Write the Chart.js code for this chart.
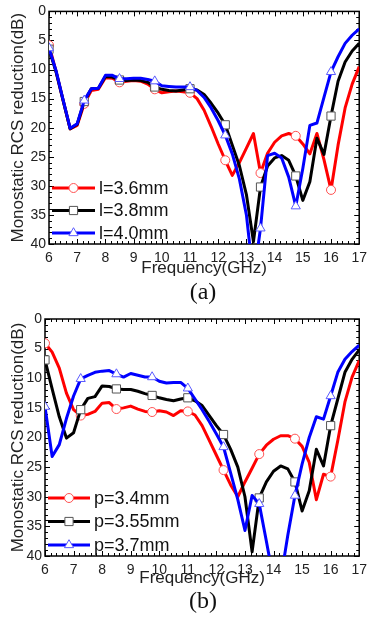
<!DOCTYPE html>
<html lang="en">
<head>
<meta charset="UTF-8">
<title>RCS reduction</title>
<script src="https://cdn.jsdelivr.net/npm/chart.js"></script>
<style>
  body { margin: 0; background: #fff; width: 373px; height: 623px; position: relative; overflow: hidden; }
  canvas { position: absolute; left: 0; }
  .cap { position: absolute; width: 60px; text-align: center; font-family: "Liberation Serif", "Times New Roman", serif; font-size: 24px; color: #111; }
</style>
</head>
<body>
<canvas id="chartA" width="373" height="282" style="top:0px"></canvas>
<div class="cap" style="left:173px; top:278px;">(a)</div>
<canvas id="chartB" width="373" height="292" style="top:300px"></canvas>
<div class="cap" style="left:173px; top:587px;">(b)</div>

<script>
// frequency points (GHz)
const freq = [6, 6.25, 6.5, 6.75, 7, 7.25, 7.5, 7.75, 8, 8.25, 8.5, 8.75, 9, 9.25, 9.5, 9.75,
  10, 10.25, 10.5, 10.75, 11, 11.25, 11.5, 11.75, 12, 12.25, 12.5, 12.75, 13, 13.25, 13.5, 13.75,
  14, 14.25, 14.5, 14.75, 15, 15.25, 15.5, 15.75, 16, 16.25, 16.5, 16.75, 17];

// (a) varying l
const labelsA = ['l=3.6mm', 'l=3.8mm', 'l=4.0mm'];
const l36 = [5.8, 10.3, 15.3, 20.2, 19.6, 15.9, 13.6, 13.4, 11.4, 11.5, 12.2, 12.0, 11.9, 12.0, 12.5, 13.4,
  14.0, 13.8, 13.7, 13.8, 14.0, 15.0, 17.0, 19.8, 22.8, 25.6, 28.2, 26.0, 23.5, 21.0, 27.8, 24.4,
  22.5, 21.4, 21.0, 21.4, 22.8, 24.5, 21.0, 25.5, 30.7, 23.0, 16.6, 12.5, 9.5];
const l38 = [6.5, 10.4, 15.3, 20.2, 19.4, 15.5, 13.3, 13.2, 11.2, 11.3, 11.8, 11.9, 11.8, 11.9, 12.2, 13.0,
  13.4, 13.6, 13.7, 13.5, 13.3, 13.5, 14.3, 15.8, 17.5, 19.5, 23.0, 26.5, 31.5, 39.6, 30.2, 26.6,
  25.2, 24.8, 25.6, 28.3, 32.5, 29.3, 21.8, 24.6, 18.0, 12.0, 8.7, 6.8, 5.5];
const l40 = [6.3, 10.2, 15.2, 20.1, 19.3, 15.3, 13.3, 13.2, 11.0, 11.0, 11.6, 11.6, 11.5, 11.5, 11.7, 12.0,
  12.8, 12.9, 13.0, 13.0, 13.0, 13.6, 14.8, 16.6, 18.8, 21.3, 24.5, 28.8, 35.0, 46.0, 37.3, 24.8,
  24.4, 25.2, 28.5, 33.5, 27.0, 19.6, 19.2, 14.8, 10.4, 7.8, 5.5, 4.1, 3.0];

// (b) varying p
const labelsB = ['p=3.4mm', 'p=3.55mm', 'p=3.7mm'];
const p34 = [4.1, 5.6, 8.3, 12.5, 15.3, 16.3, 16.1, 15.6, 14.2, 14.1, 15.2, 15.0, 14.7, 15.2, 15.6, 15.7,
  15.5, 15.7, 16.3, 15.5, 15.6, 16.2, 18.0, 20.5, 23.0, 25.5, 28.0, 30.0, 27.5, 25.2, 22.8, 21.3,
  20.3, 19.7, 19.7, 20.2, 21.5, 24.2, 30.5, 26.2, 26.6, 20.5, 14.0, 9.8, 7.0];
const p355 = [6.9, 11.8, 16.5, 20.1, 19.2, 15.3, 13.4, 13.1, 11.3, 11.4, 11.8, 11.9, 11.9, 12.2, 12.6, 12.9,
  13.3, 13.6, 13.8, 13.5, 13.3, 13.8, 14.6, 16.3, 18.0, 19.5, 22.0, 25.0, 30.0, 39.3, 30.2, 27.5,
  25.7, 24.8, 25.3, 27.5, 32.4, 29.0, 22.0, 24.8, 18.0, 13.5, 9.0, 6.8, 5.2];
const p37 = [14.8, 23.2, 21.2, 16.8, 13.0, 10.1, 9.5, 9.0, 8.8, 8.7, 9.3, 9.8, 9.2, 9.5, 9.8, 9.8,
  10.5, 10.8, 10.7, 10.7, 11.7, 13.5, 15.3, 17.3, 19.4, 21.6, 26.0, 30.5, 35.7, 29.8, 31.2, 37.5,
  44.0, 44.0, 36.5, 29.8, 24.5, 20.0, 16.5, 16.9, 13.0, 9.0, 6.8, 5.5, 4.4];

const colors = ['#ff0000', '#000000', '#0000ff'];
const markEdge = ['#ff5050', '#555555', '#5a5aff'];
const styles = ['circle', 'rect', 'triangle'];
const radii = [4.5, 5.8, 5.3];
const font = 'Liberation Sans, Arial, sans-serif';

// box with inward ticks, using the scales for positions
const framePlugin = {
  id: 'frame',
  beforeDatasetsDraw(chart) {
    const { ctx, chartArea: a, scales: { x, y } } = chart;
    ctx.save();
    ctx.strokeStyle = '#000';
    ctx.lineWidth = 1;
    ctx.beginPath();
    for (let i = 0; i <= 55; i++) {
      const f = 6 + i * 0.2;
      const px = Math.round(x.getPixelForValue(f)) + 0.5;
      const len = i % 5 === 0 ? 5 : 3;
      ctx.moveTo(px, a.bottom); ctx.lineTo(px, a.bottom - len);
      ctx.moveTo(px, a.top); ctx.lineTo(px, a.top + len);
    }
    for (let v = 0; v <= 40; v++) {
      const py = Math.round(y.getPixelForValue(v)) + 0.5;
      const len = v % 5 === 0 ? 5 : 3;
      ctx.moveTo(a.left, py); ctx.lineTo(a.left + len, py);
      ctx.moveTo(a.right, py); ctx.lineTo(a.right - len, py);
    }
    ctx.stroke();
    ctx.lineWidth = 1.5;
    ctx.strokeRect(a.left, a.top, a.right - a.left, a.bottom - a.top);
    ctx.restore();
  },
  afterDatasetsDraw(chart, args, opts) {
    const { ctx } = chart;
    ctx.save();
    opts.rows.forEach((row, i) => {
      const y = opts.y0 + i * opts.dy;
      ctx.strokeStyle = colors[i];
      ctx.lineWidth = 3;
      ctx.beginPath();
      ctx.moveTo(opts.x0, y); ctx.lineTo(opts.x1, y);
      ctx.stroke();
      ctx.fillStyle = '#fff';
      ctx.strokeStyle = markEdge[i];
      ctx.lineWidth = 1;
      Chart.helpers.drawPoint(ctx, { pointStyle: styles[i], radius: radii[i], rotation: 0, borderWidth: 1 }, (opts.x0 + opts.x1) / 2, y);
      ctx.fillStyle = '#111';
      ctx.font = '18px ' + font;
      ctx.textBaseline = 'middle';
      ctx.fillText(row, opts.x1 + 4, y + 1);
    });
    ctx.restore();
  }
};

function makeChart(id, series, names, pad, yWidth, xHeight, legend) {
  const datasets = series.map((s, i) => ({
    label: names[i],
    data: freq.map((f, k) => ({ x: f, y: s[k] })),
    borderColor: colors[i],
    borderWidth: 3,
    borderJoinStyle: 'round',
    pointStyle: styles[i],
    pointRadius: c => c.dataIndex % 5 === 0 ? radii[i] : 0,
    pointBackgroundColor: '#fff',
    pointBorderColor: markEdge[i],
    pointBorderWidth: 1,
    order: 2 - i,
    tension: 0
  }));
  return new Chart(document.getElementById(id), {
    type: 'line',
    data: { datasets: datasets },
    options: {
      responsive: false,
      animation: false,
      devicePixelRatio: 1,
      layout: { padding: pad },
      plugins: { legend: { display: false }, tooltip: { enabled: false }, frame: legend },
      scales: {
        x: {
          type: 'linear', min: 6, max: 17,
          grid: { display: false, drawTicks: false },
          border: { display: false },
          ticks: { stepSize: 1, padding: 6, color: '#222', font: { family: font, size: 14 } },
          title: { display: true, text: 'Frequency(GHz)', color: '#222', font: { family: font, size: 17 }, padding: { top: 4, bottom: 3 } },
          afterFit: s => { s.height = xHeight; }
        },
        y: {
          min: 0, max: 40, reverse: true,
          grid: { display: false, drawTicks: false },
          border: { display: false },
          ticks: { stepSize: 5, padding: 3, color: '#222', font: { family: font, size: 14 } },
          title: { display: true, text: 'Monostatic RCS reduction(dB)', color: '#222', font: { family: font, size: 17 }, padding: { top: 8, bottom: 4 } },
          afterFit: s => { s.width = yWidth; }
        }
      }
    },
    plugins: [framePlugin]
  });
}

makeChart('chartA', [l36, l38, l40], labelsA, { top: 10, right: 9, left: 0, bottom: 0 }, 49, 38,
  { rows: labelsA, x0: 52, x1: 95, y0: 188, dy: 22.5 });
makeChart('chartB', [p34, p355, p37], labelsB, { top: 19, right: 10, left: 0, bottom: 0 }, 45, 36,
  { rows: labelsB, x0: 48, x1: 90, y0: 198, dy: 23.5 });
</script>
</body>
</html>
